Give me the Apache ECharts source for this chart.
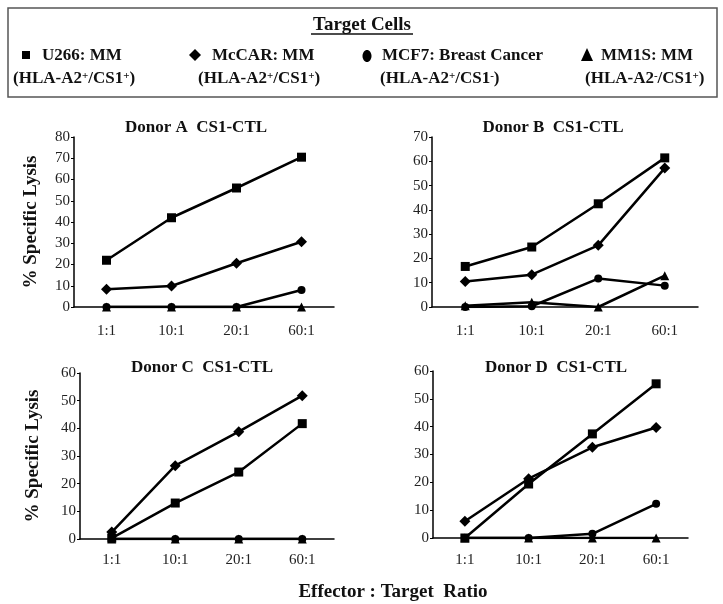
<!DOCTYPE html>
<html>
<head>
<meta charset="utf-8">
<script src="https://cdn.jsdelivr.net/npm/echarts@6/dist/echarts.min.js"></script>
<style>
html, body {margin: 0; background: #fff;}
#main {width: 723px; height: 604px;}
</style>
</head>
<body>
<div id="main"></div>
<script>
const categories = ['1:1', '10:1', '20:1', '60:1']

// Donor A
const a_u266 = [22, 42, 56, 70.5]
const a_mccar = [8.3, 9.9, 20.6, 30.7]
const a_mcf7 = [0, 0, 0, 8]
const a_mm1s = [0, 0, 0, 0]
// Donor B
const b_u266 = [16.7, 24.7, 42.5, 61.4]
const b_mccar = [10.5, 13.3, 25.4, 57.2]
const b_mcf7 = [0, 0.3, 11.7, 8.8]
const b_mm1s = [0.5, 2, 0, 12.9]
// Donor C
const c_u266 = [0.3, 13, 24.2, 41.7]
const c_mccar = [2.5, 26.5, 38.8, 51.8]
const c_mcf7 = [0, 0, 0, 0]
const c_mm1s = [0, 0, 0, 0]
// Donor D
const d_u266 = [0, 19.4, 37.4, 55.4]
const d_mccar = [6, 21.3, 32.6, 39.7]
const d_mcf7 = [0, 0, 1.5, 12.3]
const d_mm1s = [0, 0, 0, 0]

const SERIF = '"Liberation Serif", "Times New Roman", serif'

const panels = [
    {title: 'Donor A  CS1-CTL', tx: 196, ty: 128, max: 80, ylabel: true, name_gap: 33, label_gap: 17,
     grid: {left: 74, top: 137, width: 260, height: 170},
     data: [a_u266, a_mccar, a_mcf7, a_mm1s]},
    {title: 'Donor B  CS1-CTL', tx: 553, ty: 128, max: 70, ylabel: false, name_gap: 33, label_gap: 17,
     grid: {left: 432, top: 137, width: 266, height: 170},
     data: [b_u266, b_mccar, b_mcf7, b_mm1s]},
    {title: 'Donor C  CS1-CTL', tx: 202, ty: 368, max: 60, ylabel: true, name_gap: 37, label_gap: 14,
     grid: {left: 80, top: 373, width: 254, height: 166},
     data: [c_u266, c_mccar, c_mcf7, c_mm1s]},
    {title: 'Donor D  CS1-CTL', tx: 556, ty: 368, max: 60, ylabel: false, name_gap: 37, label_gap: 15,
     grid: {left: 433, top: 371, width: 255, height: 167},
     data: [d_u266, d_mccar, d_mcf7, d_mm1s]},
]

const symbols = [
    {symbol: 'rect', size: 9},
    {symbol: 'diamond', size: 11},
    {symbol: 'circle', size: 8},
    {symbol: 'triangle', size: 9},
]

const chart = echarts.init(document.getElementById('main'))

const grids = panels.map(p => p.grid)

const x_axes = panels.map((p, i) => ({
    type: 'category',
    gridIndex: i,
    data: categories,
    axisLine: {lineStyle: {color: '#000', width: 1.5}},
    axisTick: {length: 5, lineStyle: {color: '#000', width: 1}},
    axisLabel: {margin: p.label_gap, fontSize: 15, fontFamily: SERIF, color: '#222'},
}))

const y_axes = panels.map((p, i) => ({
    type: 'value',
    gridIndex: i,
    min: 0,
    max: p.max,
    interval: 10,
    name: p.ylabel ? '% Specific Lysis' : '',
    nameLocation: 'middle',
    nameGap: p.name_gap,
    nameTextStyle: {fontSize: 19, fontWeight: 'bold', fontFamily: SERIF, color: '#111'},
    axisLine: {show: true, lineStyle: {color: '#000', width: 1.5}},
    axisTick: {show: true, length: 3, lineStyle: {color: '#000', width: 1}},
    axisLabel: {margin: 4, fontSize: 15, fontFamily: SERIF, color: '#222'},
    splitLine: {show: false},
}))

const series = []
panels.forEach((p, i) => {
    p.data.forEach((d, k) => {
        series.push({
            type: 'line',
            xAxisIndex: i,
            yAxisIndex: i,
            data: d,
            symbol: symbols[k].symbol,
            symbolSize: symbols[k].size,
            showAllSymbol: true,
            animation: false,
            lineStyle: {color: '#000', width: 2.5},
            itemStyle: {color: '#000', borderWidth: 0},
            z: 10 - k,
        })
    })
})

const txt = (x, y, text, opt = {}) => ({
    type: 'text',
    x, y,
    style: Object.assign({
        text,
        fontSize: 17,
        fontWeight: 'bold',
        fontFamily: SERIF,
        fill: '#111',
        textAlign: 'left',
        textVerticalAlign: 'middle',
    }, opt),
})

const sup = {fontSize: 11, fontWeight: 'bold', fontFamily: SERIF, fill: '#111', verticalAlign: 'top'}
const rich = {s: sup}

const graphic = [
    {type: 'rect', shape: {x: 8, y: 8, width: 709, height: 89},
     style: {fill: 'none', stroke: '#555', lineWidth: 1.5}},
    txt(362, 25, 'Target Cells', {fontSize: 19, textAlign: 'center'}),
    {type: 'line', shape: {x1: 311, y1: 34, x2: 413, y2: 34}, style: {stroke: '#111', lineWidth: 1.3}},

    {type: 'rect', shape: {x: 22, y: 51, width: 8, height: 8}, style: {fill: '#000'}},
    txt(42, 56, 'U266: MM'),
    txt(13, 79, '(HLA-A2{s|+}/CS1{s|+})', {rich}),

    {type: 'polygon', shape: {points: [[195, 49], [201, 55], [195, 61], [189, 55]]}, style: {fill: '#000'}},
    txt(212, 56, 'McCAR: MM'),
    txt(198, 79, '(HLA-A2{s|+}/CS1{s|+})', {rich}),

    {type: 'ellipse', shape: {cx: 367, cy: 56, rx: 4.5, ry: 6}, style: {fill: '#000'}},
    txt(382, 56, 'MCF7: Breast Cancer'),
    txt(380, 79, '(HLA-A2{s|+}/CS1{s|-})', {rich}),

    {type: 'polygon', shape: {points: [[587, 48], [593, 61], [581, 61]]}, style: {fill: '#000'}},
    txt(601, 56, 'MM1S: MM'),
    txt(585, 79, '(HLA-A2{s|-}/CS1{s|+})', {rich}),

    txt(393, 592, 'Effector : Target  Ratio', {fontSize: 19, textAlign: 'center'}),
]

panels.forEach(p => {
    graphic.push(txt(p.tx, p.ty, p.title, {textAlign: 'center'}))
})

chart.setOption({
    backgroundColor: '#fff',
    animation: false,
    grid: grids,
    xAxis: x_axes,
    yAxis: y_axes,
    series,
    graphic,
})
</script>
</body>
</html>
